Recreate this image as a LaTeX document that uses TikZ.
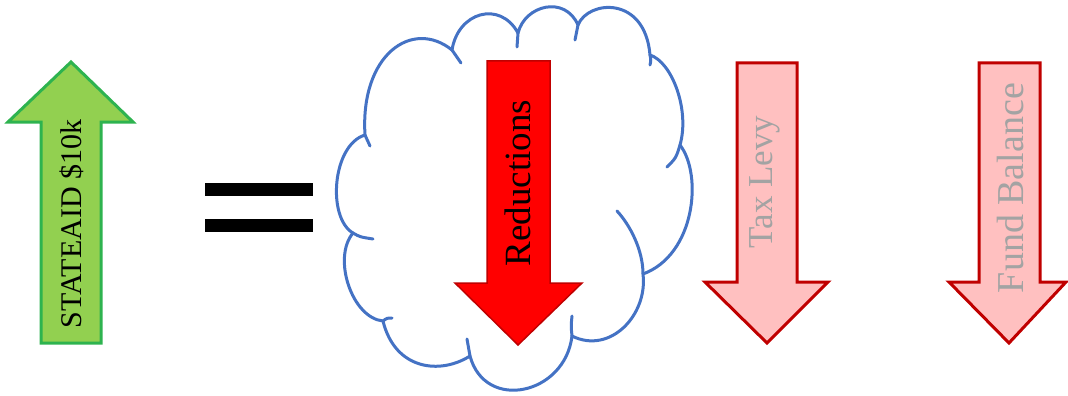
\documentclass[tikz,border=0pt]{standalone}
\usepackage{fontspec}
\setmainfont{Liberation Serif}
\definecolor{leafgreen}{HTML}{92D050}
\definecolor{leafedge}{HTML}{2EB34F}
\definecolor{darkred}{HTML}{C00000}
\definecolor{palered}{HTML}{FFC0C0}
\definecolor{softgray}{HTML}{A3A3A3}
\definecolor{cloudblue}{HTML}{4472C4}
\tikzset{
  uparrow/.style={draw=leafedge, fill=leafgreen, line width=3pt, line join=miter},
  boldarrow/.style={draw=darkred, fill=red, line width=1.5pt, line join=miter},
  palearrow/.style={draw=darkred, fill=palered, line width=3pt, line join=miter},
  cloudline/.style={draw=cloudblue, line width=3pt, line cap=round, line join=round},
  crease/.style={draw=cloudblue, line width=3pt, line cap=round},
  bar/.style={fill=black, draw=none},
  vlabel/.style={rotate=90, inner sep=0pt, anchor=center}
}
\begin{document}
\begin{tikzpicture}[x=1pt, y=-1pt]
\useasboundingbox (0,0) rectangle (1068,396);

% rising arrow on the left
\draw[uparrow] (71,62) -- (133,122) -- (101,122) -- (101,343) -- (41,343)
  -- (41,122) -- (8,122) -- cycle;
\node[vlabel] (aid) at (72,224) {\fontsize{30}{32}\selectfont STATEAID \$10k};

% equals sign
\fill[bar] (205,183) rectangle (313,196);
\fill[bar] (205,219) rectangle (313,232);

% cloud outline
\coordinate (j1) at (353,233);
\coordinate (j2) at (365,135);
\coordinate (j3) at (452,50);
\coordinate (j4) at (518,33);
\coordinate (j5) at (578,25);
\coordinate (j6) at (650,55);
\coordinate (j7) at (680,145);
\coordinate (j8) at (643,274);
\coordinate (j9) at (572,336);
\coordinate (j10) at (470,356);
\coordinate (j11) at (383,321);
\draw[cloudline, fill=white]
  (j1) .. controls (327,218) and (332,145) .. (j2)
       .. controls (360,55) and (412,18) .. (j3)
       .. controls (458,12) and (500,0) .. (j4)
       .. controls (525,5) and (565,-5) .. (j5)
       .. controls (588,0) and (645,-5) .. (j6)
       .. controls (672,62) and (690,110) .. (j7)
       .. controls (703,175) and (695,255) .. (j8)
       .. controls (648,315) and (610,355) .. (j9)
       .. controls (565,395) and (485,412) .. (j10)
       .. controls (440,375) and (395,370) .. (j11)
       .. controls (352,318) and (332,258) .. (j1) -- cycle;
% inner creases of the cloud
\coordinate (k1) at (373,239);
\coordinate (k2) at (370,146);
\coordinate (k3) at (461,63);
\coordinate (k4) at (517,47);
\coordinate (k5) at (575,40);
\coordinate (k6) at (650,65);
\coordinate (k7) at (667,167);
\coordinate (k8) at (617,211);
\coordinate (k9) at (572,316);
\coordinate (k10) at (467,339);
\coordinate (k11) at (392,318);
\draw[crease] (j1) .. controls (360,237) .. (k1);
\draw[crease] (j2) .. controls (367,140) .. (k2);
\draw[crease] (j3) .. controls (457,56) .. (k3);
\draw[crease] (j4) .. controls (518,40) .. (k4);
\draw[crease] (j5) .. controls (577,32) .. (k5);
\draw[crease] (j6) .. controls (651,60) .. (k6);
\draw[crease] (j7) .. controls (676,158) .. (k7);
\draw[crease] (k8) .. controls (630,225) and (643,250) .. (j8);
\draw[crease] (j9) .. controls (571,326) .. (k9);
\draw[crease] (j10) .. controls (468,347) .. (k10);
\draw[crease] (j11) .. controls (387,318) .. (k11);

% falling arrows
\draw[boldarrow] (487,61) -- (550,61) -- (550,283) -- (582,283) -- (518,345)
  -- (455,283) -- (487,283) -- cycle;
\node[vlabel] (red) at (518,183) {\fontsize{37}{39}\selectfont Reductions};

\draw[palearrow] (737,63) -- (797,63) -- (797,282) -- (828,282) -- (767,343)
  -- (705,282) -- (737,282) -- cycle;
\node[vlabel, text=softgray] (levy) at (765,182) {\fontsize{35}{37}\selectfont Tax Levy};

\draw[palearrow] (979,63) -- (1040,63) -- (1040,282) -- (1066,282) -- (1009,343)
  -- (949,282) -- (979,282) -- cycle;
\node[vlabel, text=softgray] (fund) at (1010,188) {\fontsize{38}{40}\selectfont Fund Balance};
\end{tikzpicture}
\end{document}
